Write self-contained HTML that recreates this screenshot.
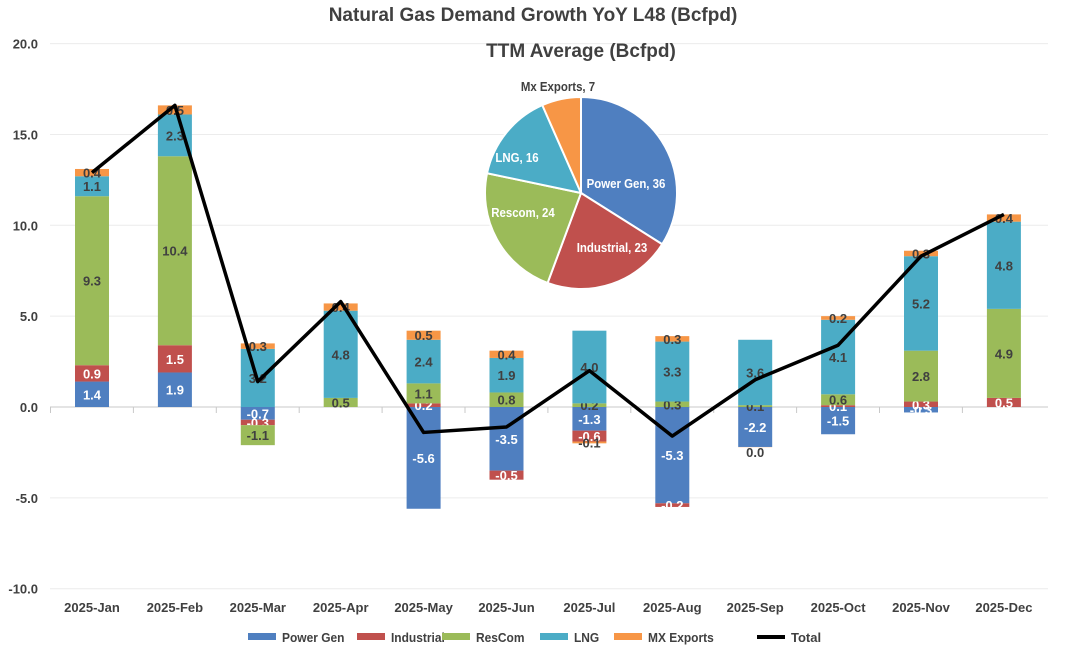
<!DOCTYPE html>
<html><head><meta charset="utf-8"><style>
body{margin:0;background:#fff;}
svg{font-family:"Liberation Sans",sans-serif;font-weight:bold;}
</style></head><body>
<svg id="c" width="1067" height="661" xmlns="http://www.w3.org/2000/svg"></svg>
<script>
const categories=["2025-Jan","2025-Feb","2025-Mar","2025-Apr","2025-May","2025-Jun","2025-Jul","2025-Aug","2025-Sep","2025-Oct","2025-Nov","2025-Dec"];
const powerGen=[1.4,1.9,-0.7,0,-5.6,-3.5,-1.3,-5.3,-2.2,-1.5,-0.3,0];
const industrial=[0.9,1.5,-0.3,0,0.2,-0.5,-0.6,-0.2,0,0.1,0.3,0.5];
const resCom=[9.3,10.4,-1.1,0.5,1.1,0.8,0.2,0.3,0.1,0.6,2.8,4.9];
const lng=[1.1,2.3,3.2,4.8,2.4,1.9,4.0,3.3,3.6,4.1,5.2,4.8];
const mxExports=[0.4,0.5,0.3,0.4,0.5,0.4,-0.1,0.3,-0.01,0.2,0.3,0.4];
const total=[12.9,16.6,1.4,5.8,-1.4,-1.1,2.0,-1.6,1.5,3.4,8.3,10.6];
const yTicks=[20,15,10,5,0,-5,-10];
const pieLabels=["Power Gen","Industrial","Rescom","LNG","Mx Exports"];
const pieValues=[36,23,24,16,7];

const NS="http://www.w3.org/2000/svg",svg=document.getElementById('c');
function el(t,a,p){const e=document.createElementNS(NS,t);for(const k in a)e.setAttribute(k,a[k]);(p||svg).appendChild(e);return e;}
function narrow(e,xx,s){e.setAttribute('transform',`translate(${xx},0) scale(${s||0.9},1) translate(${-xx},0)`);}
const y=v=>407-v*18.17;
const x=i=>92+i*82.9;
const colors=["#4f7fc0","#c0504d","#9bbb59","#4bacc6","#f79646"];
const series=[powerGen,industrial,resCom,lng,mxExports];
const names=["power-gen","industrial","rescom","lng","mx-exports"];
let t=el('text',{x:533,y:21,'text-anchor':'middle','font-size':19,fill:'#404040'});t.textContent="Natural Gas Demand Growth YoY L48 (Bcfpd)";

yTicks.forEach(v=>{
 const g=el('line',{x1:50,x2:1048,y1:y(v),y2:y(v),stroke:v===0?'#c8c8c8':'#ececec','stroke-width':1});
 
 const tt=el('text',{x:38,y:y(v)+5,'text-anchor':'end','font-size':13,fill:'#404040'});tt.textContent=v.toFixed(1);
 
});
categories.forEach((c,i)=>{
 const tk=el('line',{x1:x(i)-41.5,x2:x(i)-41.5,y1:407,y2:413,stroke:'#c8c8c8'});
 
 const tt=el('text',{x:x(i),y:612,'text-anchor':'middle','font-size':13,fill:'#404040'});tt.textContent=c;
 
 let pos=0,neg=0;
 series.forEach((s,k)=>{
  const v=s[i];let y0,y1;
  if(v>=0){y0=pos;pos+=v;y1=pos;}else{y0=neg;neg+=v;y1=neg;}
  const top=Math.min(y(y0),y(y1)),h=Math.abs(y(y0)-y(y1));
  const r=el('rect',{x:x(i)-17,y:top,width:34,height:h,fill:colors[k]});
  
  if(v!==0){
   const ly=v<0&&Math.abs(v)<0.05?top+10:top+h/2+5;
   const lb=el('text',{x:x(i),y:ly,'text-anchor':'middle','font-size':13,fill:k<2?'#fff':'#404040'});
   lb.textContent=Math.abs(v)<0.05?"0.0":v.toFixed(1);
   
  }
 });
});
const ln=el('polyline',{points:total.map((v,i)=>x(i)+','+y(v)).join(' '),fill:'none',stroke:'#000','stroke-width':3.5,'stroke-linejoin':'round'});

t=el('text',{x:581,y:57,'text-anchor':'middle','font-size':19,fill:'#404040'});t.textContent="TTM Average (Bcfpd)";

const cx=581,cy=193,R=96,sum=pieValues.reduce((a,b)=>a+b,0);
let ang=-Math.PI/2;
const labelPos=[[626,183,'#fff'],[612,247,'#fff'],[523,212,'#fff'],[517,157,'#fff'],[558,86,'#404040']];
pieValues.forEach((v,k)=>{
 const a2=ang+v/sum*2*Math.PI;
 const d=`M${cx},${cy} L${cx+R*Math.cos(ang)},${cy+R*Math.sin(ang)} A${R},${R} 0 ${a2-ang>Math.PI?1:0} 1 ${cx+R*Math.cos(a2)},${cy+R*Math.sin(a2)} Z`;
 const p=el('path',{d,fill:colors[k],stroke:'#fff','stroke-width':2});
 
 ang=a2;
 const lp=labelPos[k];
 const lb=el('text',{x:lp[0],y:lp[1]+5,'text-anchor':'middle','font-size':13,fill:lp[2]});
 lb.textContent=pieLabels[k]+", "+v;narrow(lb,lp[0],0.88);
 
});
const lx=[248,357,442,540,614];
const lt=["Power Gen","Industrial","ResCom","LNG","MX Exports"];
lt.forEach((n,k)=>{
 const r=el('rect',{x:lx[k],y:633,width:28,height:7,fill:colors[k]});
 
 const tt=el('text',{x:lx[k]+34,y:642,'font-size':13,fill:'#404040'});tt.textContent=n;narrow(tt,lx[k]+34,0.92);
 
});
const ll=el('line',{x1:757,x2:785,y1:637,y2:637,stroke:'#000','stroke-width':4});

const tl=el('text',{x:791,y:642,'font-size':13,fill:'#404040'});tl.textContent="Total";

</script>
</body></html>
